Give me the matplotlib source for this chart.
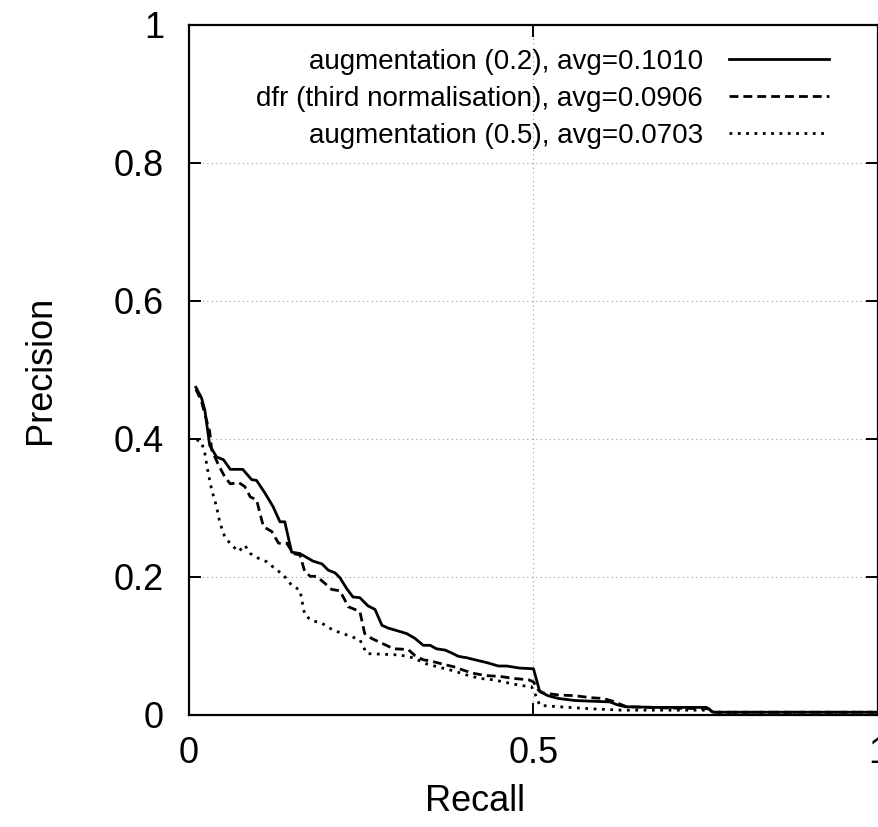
import matplotlib
matplotlib.use("Agg")
import matplotlib.pyplot as plt
from matplotlib.ticker import FuncFormatter

plt.rcParams['font.family'] = ['Liberation Sans', 'DejaVu Sans']

# augmentation (0.2)
recall_a02 = [0.010, 0.018, 0.023, 0.030, 0.040, 0.050, 0.060, 0.078, 0.091, 0.098,
              0.110, 0.122, 0.132, 0.139, 0.149, 0.161, 0.180, 0.193, 0.202, 0.212,
              0.219, 0.229, 0.238, 0.248, 0.260, 0.270, 0.280, 0.289, 0.306, 0.316,
              0.328, 0.340, 0.350, 0.359, 0.372, 0.381, 0.391, 0.403, 0.415, 0.432,
              0.449, 0.461, 0.480, 0.500, 0.509, 0.521, 0.536, 0.560, 0.584, 0.611,
              0.621, 0.633, 0.679, 0.751, 0.761, 1.000]
precision_a02 = [0.475, 0.460, 0.442, 0.391, 0.374, 0.370, 0.356, 0.356, 0.341, 0.340,
                 0.322, 0.302, 0.280, 0.280, 0.236, 0.234, 0.223, 0.219, 0.210, 0.206,
                 0.199, 0.183, 0.171, 0.170, 0.158, 0.153, 0.130, 0.126, 0.121, 0.118,
                 0.111, 0.101, 0.101, 0.096, 0.094, 0.090, 0.085, 0.083, 0.080, 0.076,
                 0.071, 0.071, 0.068, 0.067, 0.034, 0.028, 0.024, 0.021, 0.020, 0.019,
                 0.015, 0.012, 0.011, 0.011, 0.004, 0.004]

# dfr (third normalisation)
recall_dfr = [0.010, 0.018, 0.026, 0.030, 0.033, 0.043, 0.052, 0.060, 0.072, 0.081,
              0.089, 0.098, 0.108, 0.120, 0.130, 0.142, 0.151, 0.161, 0.168, 0.176,
              0.185, 0.197, 0.207, 0.219, 0.226, 0.231, 0.248, 0.255, 0.265, 0.282,
              0.297, 0.318, 0.328, 0.340, 0.352, 0.367, 0.384, 0.401, 0.415, 0.432,
              0.451, 0.471, 0.493, 0.500, 0.507, 0.514, 0.536, 0.560, 0.584, 0.601,
              0.615, 0.635, 0.700, 0.755, 0.761, 1.000]
precision_dfr = [0.472, 0.455, 0.425, 0.411, 0.384, 0.362, 0.345, 0.335, 0.337, 0.331,
                 0.316, 0.312, 0.273, 0.266, 0.249, 0.249, 0.234, 0.232, 0.208, 0.201,
                 0.201, 0.191, 0.182, 0.180, 0.167, 0.157, 0.150, 0.118, 0.111, 0.103,
                 0.096, 0.095, 0.086, 0.080, 0.078, 0.074, 0.070, 0.064, 0.060, 0.057,
                 0.056, 0.053, 0.051, 0.048, 0.036, 0.032, 0.029, 0.028, 0.025, 0.024,
                 0.020, 0.012, 0.010, 0.009, 0.004, 0.004]

# augmentation (0.5)
recall_a05 = [0.011, 0.018, 0.023, 0.028, 0.033, 0.040, 0.045, 0.052, 0.062, 0.072,
              0.081, 0.089, 0.101, 0.113, 0.125, 0.137, 0.149, 0.161, 0.168, 0.178,
              0.193, 0.209, 0.229, 0.248, 0.258, 0.306, 0.325, 0.345, 0.364, 0.384,
              0.403, 0.422, 0.442, 0.461, 0.480, 0.497, 0.504, 0.509, 0.536, 0.584,
              0.628, 0.700, 0.755, 0.761, 1.000]
precision_a05 = [0.399, 0.396, 0.379, 0.350, 0.326, 0.302, 0.278, 0.258, 0.246, 0.237,
                 0.246, 0.234, 0.227, 0.222, 0.212, 0.203, 0.188, 0.181, 0.145, 0.137,
                 0.133, 0.123, 0.116, 0.109, 0.089, 0.087, 0.083, 0.074, 0.069, 0.064,
                 0.058, 0.053, 0.051, 0.047, 0.043, 0.041, 0.027, 0.014, 0.012, 0.009,
                 0.007, 0.007, 0.007, 0.004, 0.004]

labels = ["augmentation (0.2), avg=0.1010",
          "dfr (third normalisation), avg=0.0906",
          "augmentation (0.5), avg=0.0703"]

fig = plt.figure(figsize=(8.79, 8.27), dpi=100)
ax = fig.add_axes([189 / 879, 112 / 827, 689 / 879, 690 / 827])

ax.plot(recall_a02, precision_a02, color="black", lw=2.0, ls="-", label=labels[0])
ax.plot(recall_dfr, precision_dfr, color="black", lw=2.0, ls=(0, (3.2, 1.8)), label=labels[1])
ax.plot(recall_a05, precision_a05, color="black", lw=2.0, ls=(0, (1, 2)), label=labels[2])

ax.set_xlim(0, 1)
ax.set_ylim(0, 1)
ax.set_xticks([0, 0.5, 1])
ax.set_yticks([0, 0.2, 0.4, 0.6, 0.8, 1])
fmt = FuncFormatter(lambda v, p: "%g" % v)
ax.xaxis.set_major_formatter(fmt)
ax.yaxis.set_major_formatter(fmt)
ax.grid(True, color="#999999", lw=0.8, ls=(0, (1, 3)))
ax.tick_params(direction="in", length=8.5, width=1.4, labelsize=26,
               top=True, right=True)
ax.tick_params(axis="y", pad=18)
ax.tick_params(axis="x", pad=15)
for s in ax.spines.values():
    s.set_linewidth(1.6)

ax.set_xlabel("Recall", fontsize=26)
ax.set_ylabel("Precision", fontsize=26)
ax.xaxis.set_label_coords(0.415, -0.1)
ax.yaxis.set_label_coords(-0.19, 0.5)

leg = ax.legend(loc="upper right", bbox_to_anchor=(0.945, 0.981), frameon=False,
                markerfirst=False, fontsize=20, handlelength=3.6,
                handletextpad=0.93, labelspacing=0.39, borderaxespad=0)

fig.savefig("out.png", dpi=100)
